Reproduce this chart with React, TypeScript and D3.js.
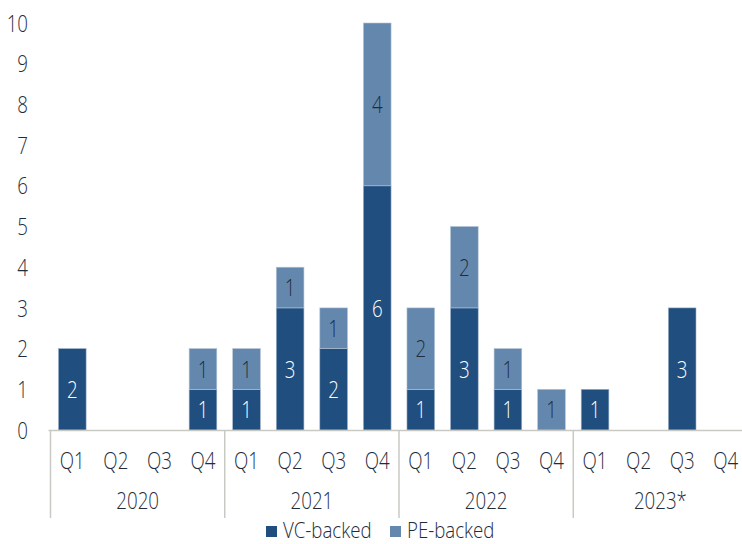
import React from "react";
import * as d3 from "d3";

const quarters = ["Q1", "Q2", "Q3", "Q4"];
const years = ["2020", "2021", "2022", "2023*"];
const vcBacked = [2, 0, 0, 1, 1, 3, 2, 6, 1, 3, 1, 0, 1, 0, 3, 0];
const peBacked = [0, 0, 0, 1, 1, 1, 1, 4, 2, 2, 1, 1, 0, 0, 0, 0];
const yTicks = [0, 1, 2, 3, 4, 5, 6, 7, 8, 9, 10];
const seriesNames = ["VC-backed", "PE-backed"];

const W = 742;
const H = 544;
const VC_COLOR = "#1f4e7f";
const PE_COLOR = "#6488ad";
const TEXT = "#1e2c3c";
const FONT = "'Open Sans', 'Liberation Sans', Arial, sans-serif";

function T(props: { x: number; y: number; anchor?: string; size?: number; sx?: number; fill?: string; children: React.ReactNode }) {
  const { x, y, anchor = "middle", size = 24, sx = 0.78, fill = TEXT, children } = props;
  return (
    <text
      transform={`translate(${x},${y}) scale(${sx},1)`}
      dy="0.36em"
      textAnchor={anchor}
      fontFamily={FONT}
      fontWeight={300}
      fontSize={size}
      fill={fill}
    >
      {children}
    </text>
  );
}

export default function App() {
  const slots = years.flatMap((y) => quarters.map((q) => `${y}-${q}`));
  const x = d3.scaleBand<string>().domain(slots).range([50.5, 747.3]).paddingInner(0.365).paddingOuter(0.18);
  const y = d3.scaleLinear().domain([0, 10]).range([430, 23]);
  const step = x.step();
  const x0 = 50.5;
  const bw = x.bandwidth();

  return (
    <svg width={W} height={H} style={{ position: "absolute", left: 0, top: 0, background: "#fff" }}>
      {yTicks.map((t) => (
        <T key={t} x={28} y={y(t)} anchor="end">
          {t}
        </T>
      ))}
      {slots.map((s, i) => {
        const vc = vcBacked[i];
        const pe = peBacked[i];
        const bx = x0 + i * step + (step - bw) / 2;
        return (
          <g key={s}>
            {vc > 0 && (
              <rect x={bx} y={y(vc)} width={bw} height={y(0) - y(vc)} fill={VC_COLOR} stroke="#9fb3c8" strokeWidth={0.6} />
            )}
            {pe > 0 && (
              <rect x={bx} y={y(vc + pe)} width={bw} height={y(vc) - y(vc + pe)} fill={PE_COLOR} stroke="#b3c4d6" strokeWidth={0.6} />
            )}
            {vc > 0 && (
              <T x={bx + bw / 2} y={y(vc / 2)} fill="#ffffff">
                {vc}
              </T>
            )}
            {pe > 0 && (
              <T x={bx + bw / 2} y={y(vc + pe / 2)}>
                {pe}
              </T>
            )}
          </g>
        );
      })}
      <line x1={48.5} x2={W} y1={430.5} y2={430.5} stroke="#c9c9c4" strokeWidth={1.5} />
      {years.map((yr, j) => (
        <line key={yr} x1={x0 + j * 4 * step} x2={x0 + j * 4 * step} y1={430} y2={518} stroke="#c9c9c4" strokeWidth={1.5} />
      ))}
      {slots.map((s, i) => (
        <T key={s} x={x0 + i * step + step / 2} y={460}>
          {quarters[i % 4]}
        </T>
      ))}
      {years.map((yr, j) => (
        <T key={yr} x={x0 + j * 4 * step + 2 * step} y={500}>
          {yr}
        </T>
      ))}
      {seriesNames.map((n, k) => {
        const lx = k === 0 ? 266 : 390;
        return (
          <g key={n}>
            <rect x={lx} y={526} width={11} height={11} fill={k === 0 ? VC_COLOR : PE_COLOR} />
            <T x={lx + 17} y={530} anchor="start" size={22.5} sx={0.83}>
              {n}
            </T>
          </g>
        );
      })}
    </svg>
  );
}
